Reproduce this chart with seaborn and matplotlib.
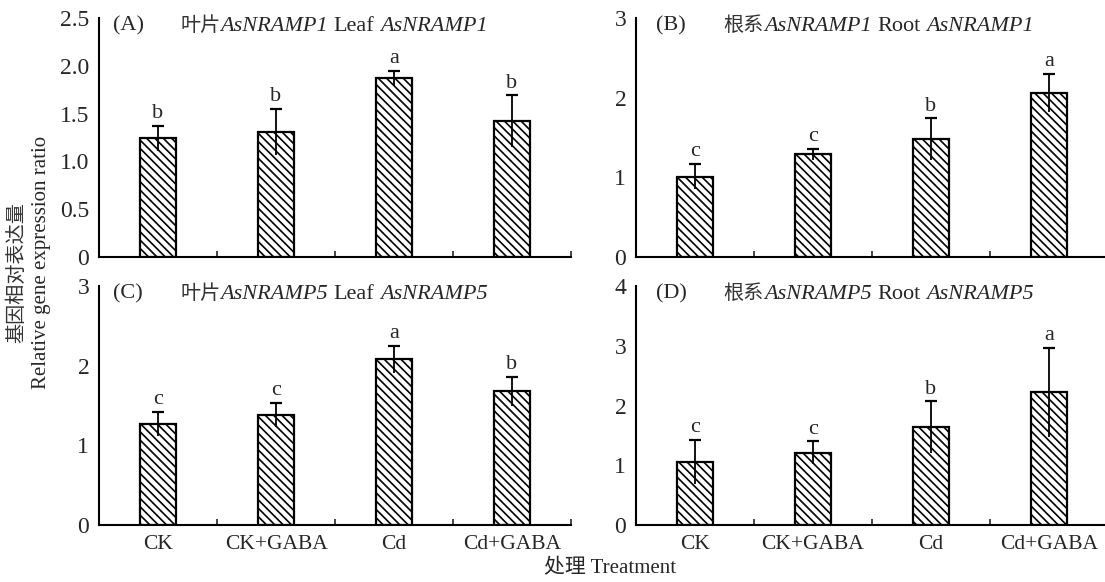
import numpy as np
import pandas as pd
import seaborn as sns
import matplotlib.pyplot as plt

# Data
treatments = ['CK', 'CK+GABA', 'Cd', 'Cd+GABA']

leaf1_mean = [1.24, 1.31, 1.87, 1.42]
leaf1_err = [0.13, 0.24, 0.08, 0.27]
leaf1_sig = ['b', 'b', 'a', 'b']

root1_mean = [1.01, 1.29, 1.48, 2.06]
root1_err = [0.16, 0.07, 0.26, 0.24]
root1_sig = ['c', 'c', 'b', 'a']

leaf5_mean = [1.27, 1.38, 2.08, 1.68]
leaf5_err = [0.15, 0.15, 0.17, 0.18]
leaf5_sig = ['c', 'c', 'a', 'b']

root5_mean = [1.05, 1.21, 1.64, 2.22]
root5_err = [0.37, 0.19, 0.43, 0.74]
root5_sig = ['c', 'c', 'b', 'a']

y_max = [2.5, 3, 3, 4]
y_ticks = [[0, 0.5, 1.0, 1.5, 2.0, 2.5], [0, 1, 2, 3], [0, 1, 2, 3], [0, 1, 2, 3, 4]]
y_ticklabels = [['0', '0.5', '1.0', '1.5', '2.0', '2.5'], ['0', '1', '2', '3'],
                ['0', '1', '2', '3'], ['0', '1', '2', '3', '4']]
tags = ['(A)', '(B)', '(C)', '(D)']
organ_cn = ['叶片', '根系', '叶片', '根系']
organ_en = ['Leaf', 'Root', 'Leaf', 'Root']
genes = ['AsNRAMP1', 'AsNRAMP1', 'AsNRAMP5', 'AsNRAMP5']

sns.set_style('ticks')
plt.rcParams['font.family'] = ['Liberation Serif', 'Noto Sans CJK SC']
plt.rcParams['hatch.linewidth'] = 1.2
plt.rcParams['axes.linewidth'] = 1.5

W, H = 1105, 582
fig = plt.figure(figsize=(W / 100, H / 100), dpi=100)

# panel boxes in pixels: left, top, bottom
boxes = [(99, 18, 257), (636, 18, 257), (99, 286, 525), (636, 286, 525)]
pw = 472

means = [leaf1_mean, root1_mean, leaf5_mean, root5_mean]
errs = [leaf1_err, root1_err, leaf5_err, root5_err]
sigs = [leaf1_sig, root1_sig, leaf5_sig, root5_sig]

for i in range(4):
    left, top, bottom = boxes[i]
    ax = fig.add_axes([left / W, 1 - bottom / H, pw / W, (bottom - top) / H])
    df = pd.DataFrame({'treatment': treatments, 'value': means[i], 'err': errs[i]})
    sns.barplot(data=df, x='treatment', y='value', ax=ax, color='white', saturation=1,
                edgecolor='black', linewidth=1.6, width=0.3, hatch='\\\\\\\\', errorbar=None)
    x = np.arange(len(treatments))
    ax.errorbar(x, df['value'], yerr=df['err'], fmt='none', ecolor='black',
                elinewidth=1.3, capsize=0, zorder=5)
    ax.plot(x, df['value'] + df['err'], linestyle='none', marker='_', ms=8,
            mew=1.6, color='black', zorder=5)
    for xi, m, e, s in zip(x, df['value'], df['err'], sigs[i]):
        ax.annotate(s, (xi, m + e), xytext=(0, 2), textcoords='offset points',
                    ha='center', va='bottom', fontsize=16)

    ax.set_xlim(-0.5, 3.5)
    ax.set_ylim(0, y_max[i])
    ax.set_yticks(y_ticks[i])
    ax.set_yticklabels(y_ticklabels[i])
    ax.set_xticks(x)
    ax.set_xticks(x + 0.5, minor=True)
    if i >= 2:
        ax.set_xticklabels(treatments)
    else:
        ax.set_xticklabels([])
    ax.tick_params(axis='x', which='major', length=0, pad=7, labelsize=15.5)
    ax.tick_params(axis='x', which='minor', direction='in', length=4, width=1.2)
    ax.tick_params(axis='y', length=0, pad=7, labelsize=17)
    ax.set_xlabel('')
    ax.set_ylabel('')
    sns.despine(ax=ax)
    for sp in ax.spines.values():
        sp.set_color('black')

    # panel title: tag, Chinese organ, italic gene, English organ, italic gene
    ty = 0.946
    tx_tag = 0.03 if i % 2 == 0 else 0.042
    tx = 0.172 if i % 2 == 0 else 0.186
    fs = 15.5
    ax.text(tx_tag, ty, tags[i], transform=ax.transAxes, fontsize=fs + 0.5, va='baseline')
    t = ax.text(tx, ty, organ_cn[i], transform=ax.transAxes, fontsize=fs - 1,
                va='baseline', color='#333333')
    pieces = [(genes[i], 'italic', 0), (organ_en[i], 'normal', 4), (genes[i], 'italic', 4)]
    for s, style, gap in pieces:
        t = ax.annotate(s, xy=(1, ty), xycoords=(t, 'axes fraction'),
                        xytext=(gap, 0), textcoords='offset points',
                        va='baseline', ha='left', fontsize=fs + 0.5, fontstyle=style)

fig.text(18 / W, 1 - 273 / H, '基因相对表达量', rotation=90, ha='center', va='center',
         fontsize=14.5, color='#333333')
fig.text(42 / W, 1 - 262 / H, 'Relative gene expression ratio', rotation=90,
         ha='center', va='center', fontsize=15)
fig.text(610 / W, 1 - 569 / H, '处理 Treatment', ha='center', va='center', fontsize=15)

fig.savefig('out.png', dpi=100)
